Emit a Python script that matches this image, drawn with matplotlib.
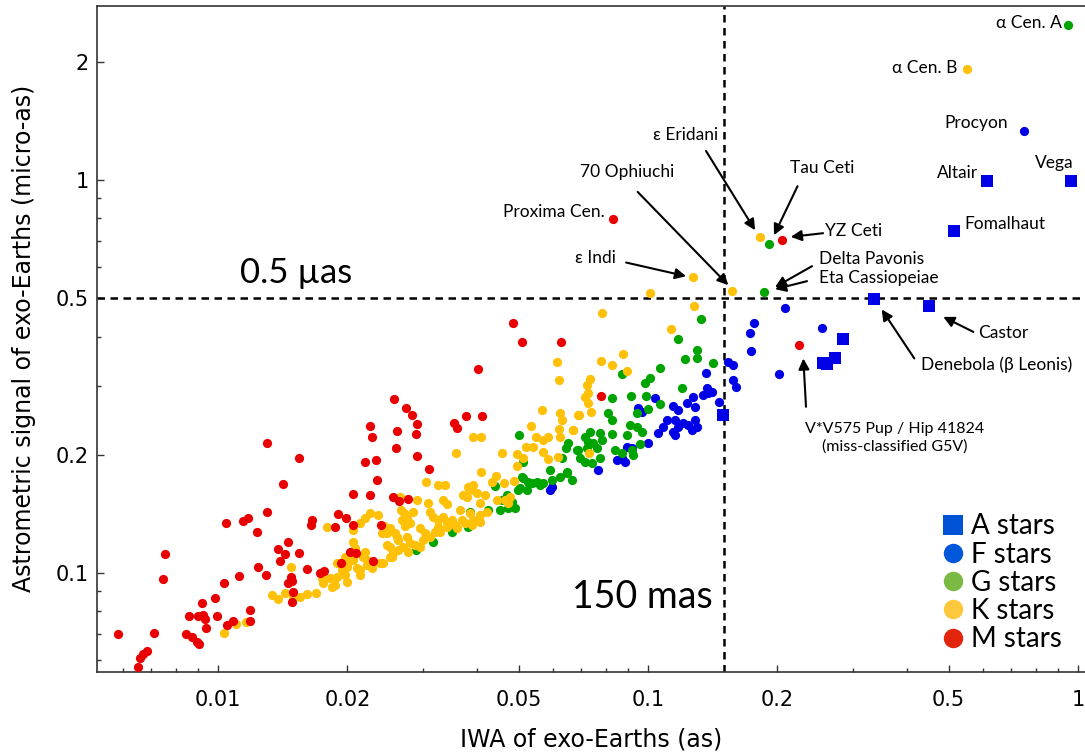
import matplotlib
matplotlib.use("Agg")
import matplotlib.pyplot as plt
from matplotlib.ticker import FixedLocator, FixedFormatter, NullFormatter
from matplotlib.lines import Line2D

# M stars
m_iwa = [0.00584, 0.00651, 0.00659, 0.0067, 0.00683, 0.0071, 0.00746, 0.00753, 0.00841, 0.00869,
         0.00892, 0.00905, 0.00856, 0.00896, 0.00923, 0.00933, 0.00917, 0.00938, 0.00984, 0.00997,
         0.0103, 0.01044, 0.01048, 0.01081, 0.0112, 0.01145, 0.01174, 0.01188, 0.01187, 0.0123,
         0.01241, 0.01295, 0.01298, 0.01303, 0.01381, 0.01428, 0.01394, 0.01413, 0.01455, 0.01541,
         0.01457, 0.01488, 0.01478, 0.01492, 0.01484, 0.01541, 0.01611, 0.01657, 0.01646, 0.01727,
         0.01759, 0.01875, 0.01901, 0.01985, 0.01929, 0.02057, 0.02057, 0.02028, 0.02094, 0.02194,
         0.02327, 0.02259, 0.02278, 0.02261, 0.02294, 0.02346, 0.02394, 0.0257, 0.02605, 0.02591,
         0.02553, 0.0264, 0.02771, 0.02741, 0.02826, 0.02903, 0.02887, 0.02906, 0.0309, 0.03539,
         0.03602, 0.0378, 0.04119, 0.04025, 0.04861, 0.05085, 0.06266, 0.07775, 0.08306, 0.2053,
         0.2249]
m_sig = [0.0698, 0.0578, 0.0608, 0.0622, 0.0633, 0.0705, 0.0966, 0.1116, 0.0700, 0.0688,
         0.0668, 0.0660, 0.0779, 0.0778, 0.0784, 0.0766, 0.0838, 0.0723, 0.0866, 0.0780,
         0.0945, 0.1338, 0.0738, 0.0755, 0.0983, 0.136, 0.1382, 0.0805, 0.0755, 0.1275,
         0.1038, 0.099, 0.1427, 0.2138, 0.115, 0.1121, 0.1076, 0.1685, 0.1199, 0.1126,
         0.0946, 0.0954, 0.0979, 0.0896, 0.0845, 0.1958, 0.1022, 0.1364, 0.1325, 0.1,
         0.1012, 0.1307, 0.1413, 0.138, 0.1063, 0.1594, 0.1325, 0.1133, 0.1122, 0.1913,
         0.1945, 0.2369, 0.2223, 0.1579, 0.1073, 0.1725, 0.1326, 0.2772, 0.2294, 0.2084,
         0.1561, 0.1525, 0.1543, 0.2634, 0.2523, 0.2391, 0.2261, 0.1991, 0.1839, 0.2412,
         0.2342, 0.2504, 0.2504, 0.3298, 0.4326, 0.3864, 0.3864, 0.282, 0.796, 0.7036,
         0.381]

# K stars
k_iwa = [0.01035, 0.0110, 0.01159, 0.01333, 0.01381, 0.01431, 0.01497, 0.01476, 0.01551, 0.01608,
         0.01686, 0.01789, 0.01758, 0.01822, 0.01872, 0.01888, 0.0194, 0.01992, 0.02064, 0.02057,
         0.02064, 0.02083, 0.02139, 0.02197, 0.02257, 0.0236, 0.02139, 0.02217, 0.02177, 0.02278,
         0.02381, 0.02403, 0.02433, 0.02512, 0.02535, 0.02626, 0.01743, 0.01894, 0.02512, 0.0265,
         0.0266, 0.02708, 0.02747, 0.02796, 0.02899, 0.02604, 0.02747, 0.02796, 0.02557, 0.02697,
         0.02771, 0.01974, 0.02197, 0.02217, 0.02297, 0.01992, 0.02102, 0.02139, 0.01974, 0.01992,
         0.01838, 0.06133, 0.06219, 0.0566, 0.06252, 0.0632, 0.067, 0.06885, 0.05346, 0.06219,
         0.06242, 0.0549, 0.05707, 0.05862, 0.03911, 0.0409, 0.03577, 0.04569, 0.05203, 0.05395,
         0.05689, 0.04958, 0.05129, 0.04966, 0.05862, 0.06166, 0.0409, 0.03041, 0.03253, 0.03378,
         0.04424, 0.0433, 0.04625, 0.04872, 0.03924, 0.03855, 0.038, 0.03997, 0.04178, 0.0372,
         0.03084, 0.03342, 0.03403, 0.04068, 0.04216, 0.04447, 0.0465, 0.04777, 0.04718, 0.03654,
         0.03855, 0.0382, 0.02846, 0.02674, 0.02722, 0.03112, 0.03167, 0.03253, 0.03342, 0.03403,
         0.03495, 0.03924, 0.03688, 0.03754, 0.0389, 0.04068, 0.04068, 0.02468, 0.0258, 0.02626,
         0.0295, 0.0303, 0.03003, 0.03112, 0.03196, 0.03253, 0.03283, 0.03403, 0.03557, 0.0359,
         0.02468, 0.02871, 0.0295, 0.02512, 0.02423, 0.1011, 0.1273, 0.1566, 0.1279, 0.0783,
         0.1131, 0.0873, 0.07775, 0.08235, 0.0892, 0.0733, 0.072, 0.07263, 0.0714, 0.07263,
         0.07359, 0.0692, 0.0668, 0.07291, 0.1824, 0.5511]
k_sig = [0.0704, 0.0744, 0.0749, 0.0878, 0.0857, 0.0888, 0.0870, 0.1038, 0.0870, 0.0887,
         0.0891, 0.1309, 0.0941, 0.0969, 0.0932, 0.0979, 0.1018, 0.1048, 0.1079, 0.1286,
         0.1201, 0.1156, 0.1338, 0.1378, 0.1419, 0.1405, 0.1018, 0.1048, 0.1100, 0.1028,
         0.1059, 0.1262, 0.1317, 0.1166, 0.1100, 0.1144, 0.0969, 0.1059, 0.1300, 0.1564,
         0.1447, 0.1419, 0.1378, 0.1338, 0.1534, 0.1237, 0.1237, 0.1190, 0.1122, 0.1166,
         0.1133, 0.1100, 0.1133, 0.1079, 0.1059, 0.1038, 0.1028, 0.0988, 0.0988, 0.0950,
         0.0923, 0.3436, 0.3098, 0.2603, 0.2549, 0.2451, 0.2311, 0.2523, 0.2371, 0.2321,
         0.2223, 0.2223, 0.218, 0.2215, 0.2215, 0.2223, 0.2017, 0.2017, 0.2096, 0.2096,
         0.2035, 0.2005, 0.1958, 0.1875, 0.1947, 0.1977, 0.1807, 0.1708, 0.1675, 0.1675,
         0.1768, 0.1708, 0.1691, 0.1714, 0.1675, 0.1626, 0.1564, 0.1595, 0.1579, 0.1579,
         0.1507, 0.1534, 0.1498, 0.1504, 0.1432, 0.1534, 0.1534, 0.1564, 0.1504, 0.1447,
         0.1419, 0.1658, 0.1432, 0.1364, 0.1317, 0.1432, 0.1391, 0.1364, 0.1391, 0.1351,
         0.1364, 0.1364, 0.1364, 0.1338, 0.1325, 0.1405, 0.1351, 0.1262, 0.1262, 0.1213,
         0.1300, 0.1262, 0.1213, 0.1237, 0.1274, 0.1311, 0.1274, 0.1311, 0.1325, 0.1300,
         0.1178, 0.1178, 0.1166, 0.1100, 0.1059, 0.5177, 0.5674, 0.5227, 0.4787, 0.4579,
         0.4177, 0.3607, 0.3468, 0.3382, 0.3271, 0.311, 0.301, 0.2867, 0.281, 0.2703,
         0.2564, 0.2523, 0.2312, 0.2023, 0.7175, 1.916]

# G stars
g_iwa = [0.02887, 0.03167, 0.03495, 0.0382, 0.03855, 0.04252, 0.04527, 0.04733, 0.04906, 0.04693,
         0.04569, 0.0482, 0.04407, 0.04993, 0.05223, 0.05129, 0.05365, 0.0551, 0.05085, 0.05268,
         0.05707, 0.05916, 0.05971, 0.06242, 0.0647, 0.06645, 0.05038, 0.0561, 0.05004, 0.06527,
         0.06447, 0.06826, 0.06949, 0.05129, 0.063, 0.0647, 0.133, 0.1173, 0.1298, 0.1298,
         0.1219, 0.1419, 0.1066, 0.0871, 0.1011, 0.0984, 0.1198, 0.08235, 0.0912, 0.0988,
         0.1066, 0.1002, 0.0941, 0.0809, 0.08235, 0.0908, 0.0941, 0.0967, 0.0892, 0.08235,
         0.0733, 0.0773, 0.07804, 0.07462, 0.07599, 0.0714, 0.07263, 0.072, 0.0958, 0.08383,
         0.08687, 0.0917, 0.09245, 0.06885, 0.0714, 0.07398, 0.0773, 0.1908, 0.1864, 0.9493]
g_sig = [0.1144, 0.1201, 0.1274, 0.1311, 0.1432, 0.1447, 0.1447, 0.1461, 0.1461, 0.1579,
         0.1534, 0.1519, 0.1665, 0.1626, 0.1626, 0.1742, 0.1691, 0.1708, 0.1758, 0.1708,
         0.1691, 0.1828, 0.1725, 0.1758, 0.18, 0.1725, 0.1643, 0.1675, 0.2241, 0.2138,
         0.2077, 0.2056, 0.1958, 0.192, 0.1958, 0.1811, 0.4429, 0.3933, 0.3693, 0.3518,
         0.3498, 0.3416, 0.333, 0.3221, 0.3129, 0.3039, 0.2962, 0.2783, 0.2821, 0.2821,
         0.2688, 0.261, 0.2549, 0.2549, 0.2451, 0.238, 0.2357, 0.2288, 0.2244, 0.2258,
         0.2288, 0.2267, 0.2181, 0.2138, 0.2076, 0.2222, 0.2158, 0.2076, 0.2129, 0.2056,
         0.2017, 0.2056, 0.1997, 0.2056, 0.192, 0.1902, 0.1958, 0.6862, 0.5196, 2.48]

# F stars
f_iwa = [0.07651, 0.05971, 0.05916, 0.08458, 0.08687, 0.08844, 0.0892, 0.0917, 0.1002, 0.1057,
         0.1085, 0.1105, 0.1156, 0.1176, 0.1208, 0.1241, 0.1286, 0.1298, 0.1264, 0.1145,
         0.1156, 0.0949, 0.0967, 0.1038, 0.1145, 0.1176, 0.1275, 0.123, 0.1286, 0.1463,
         0.1369, 0.1381, 0.1407, 0.1345, 0.1362, 0.1537, 0.1579, 0.1579, 0.1602, 0.2083,
         0.1764, 0.1727, 0.1736, 0.2535, 0.202, 0.7487]
f_sig = [0.1828, 0.1658, 0.1626, 0.1939, 0.1958, 0.192, 0.2096, 0.2076, 0.2138, 0.2267,
         0.2357, 0.2451, 0.2451, 0.2357, 0.2404, 0.238, 0.2451, 0.2357, 0.2312, 0.2288,
         0.2244, 0.2625, 0.2573, 0.2783, 0.2661, 0.26, 0.281, 0.2703, 0.265, 0.2729,
         0.2951, 0.2867, 0.2893, 0.2838, 0.3233, 0.3448, 0.3382, 0.3098, 0.2979, 0.4715,
         0.4334, 0.4073, 0.3672, 0.4195, 0.3203, 1.335]

# A stars
a_iwa = [0.1497, 0.2846, 0.2722, 0.2604, 0.2546, 0.3354, 0.4511, 0.5147, 0.6152, 0.9632]
a_sig = [0.2523, 0.3933, 0.3518, 0.3402, 0.3422, 0.4989, 0.4778, 0.743, 0.9942, 0.9942]

iwa_limit = 0.15
signal_limit = 0.5

x_ticks = [0.01, 0.02, 0.05, 0.1, 0.2, 0.5, 1]
x_ticklabels = ["0.01", "0.02", "0.05", "0.1", "0.2", "0.5", "1"]
y_ticks = [0.1, 0.2, 0.5, 1, 2]
y_ticklabels = ["0.1", "0.2", "0.5", "1", "2"]

legend_labels = ["A stars", "F stars", "G stars", "K stars", "M stars"]
legend_colors = ["#0052d6", "#0057db", "#7aba42", "#fec83c", "#e1240b"]

# labels: (text, x, y, ha)
star_labels = [
    ("\u03b1 Cen. A", 0.918, 2.509, "right"),
    ("\u03b1 Cen. B", 0.523, 1.928, "right"),
    ("Procyon", 0.687, 1.396, "right"),
    ("Altair", 0.585, 1.042, "right"),
    ("Vega", 0.974, 1.104, "right"),
    ("Fomalhaut", 0.543, 0.773, "left"),
    ("YZ Ceti", 0.258, 0.742, "left"),
    ("Tau Ceti", 0.254, 1.073, "center"),
    ("Delta Pavonis\nEta Cassiopeiae", 0.2498, 0.597, "left"),
    ("\u03b5 Eridani", 0.1455, 1.302, "right"),
    ("70 Ophiuchi", 0.115, 1.048, "right"),
    ("Proxima Cen.", 0.0794, 0.829, "right"),
    ("\u03b5 Indi", 0.0843, 0.633, "right"),
    ("Castor", 0.585, 0.408, "left"),
    ("Denebola (\u03b2 Leonis)", 0.431, 0.340, "left"),
]
# arrows: (tail x, tail y, tip x, tip y)
arrows = [
    (0.2553, 0.733, 0.2147, 0.7175),
    (0.2227, 0.9655, 0.1963, 0.7244),
    (0.1364, 1.187, 0.1774, 0.746),
    (0.0946, 0.9337, 0.1537, 0.5406),
    (0.0889, 0.6173, 0.1226, 0.5697),
    (0.2406, 0.6042, 0.1974, 0.5343),
    (0.2343, 0.5534, 0.1974, 0.528),
    (0.5708, 0.4111, 0.486, 0.4489),
    (0.4162, 0.3518, 0.3495, 0.4688),
    (0.2330, 0.265, 0.2297, 0.3518),
]

label_font = ["Lato", "DejaVu Sans"]

fig = plt.figure(figsize=(10.85, 7.54), dpi=100)
ax = fig.add_axes([0.0894, 0.1091, 0.9106, 0.8833])

ms = 44
ax.scatter(f_iwa, f_sig, s=ms, c="#0000e6", marker="o", linewidths=0, zorder=3)
ax.scatter(a_iwa, a_sig, s=76, c="#0000e6", marker="s", linewidths=0, zorder=3)
ax.scatter(g_iwa, g_sig, s=ms, c="#00a400", marker="o", linewidths=0, zorder=4)
ax.scatter(k_iwa, k_sig, s=ms, c="#ffc107", marker="o", linewidths=0, zorder=5)
ax.scatter(m_iwa, m_sig, s=ms, c="#e80000", marker="o", linewidths=0, zorder=6)

ax.axhline(signal_limit, color="black", lw=1.8, ls=(0, (3, 2.2)), zorder=2)
ax.axvline(iwa_limit, color="black", lw=1.8, ls=(0, (3, 2.2)), zorder=2)

ax.set_xscale("log")
ax.set_yscale("log")
ax.set_xlim(0.00523, 1.038)
ax.set_ylim(0.0561, 2.78)

ax.xaxis.set_major_locator(FixedLocator(x_ticks))
ax.xaxis.set_major_formatter(FixedFormatter(x_ticklabels))
ax.yaxis.set_major_locator(FixedLocator(y_ticks))
ax.yaxis.set_major_formatter(FixedFormatter(y_ticklabels))
x_minor = [m * 10.0 ** e for e in (-3, -2, -1) for m in range(2, 10)]
x_minor = [v for v in x_minor if all(abs(v - t) > 1e-9 for t in x_ticks)]
y_minor = [m * 10.0 ** e for e in (-2, -1, 0) for m in range(2, 10)]
y_minor = [v for v in y_minor if all(abs(v - t) > 1e-9 for t in y_ticks)]
ax.xaxis.set_minor_locator(FixedLocator(x_minor))
ax.yaxis.set_minor_locator(FixedLocator(y_minor))
ax.xaxis.set_minor_formatter(NullFormatter())
ax.yaxis.set_minor_formatter(NullFormatter())

ax.tick_params(which="both", direction="in", colors="#333333", width=1.0,
               top=False, right=False, labelsize=15)
ax.tick_params(axis="x", which="both", pad=13)
ax.tick_params(axis="y", which="both", pad=6)
ax.tick_params(which="major", length=5)
ax.tick_params(which="minor", length=3)
for lab in ax.get_xticklabels() + ax.get_yticklabels():
    lab.set_color("black")

ax.spines["right"].set_visible(False)
for side in ("left", "bottom", "top"):
    ax.spines[side].set_color("#333333")
    ax.spines[side].set_linewidth(1.2)

ax.set_xlabel("IWA of exo-Earths (as)", fontsize=17)
ax.set_ylabel("Astrometric signal of exo-Earths (micro-as)", fontsize=17)
ax.xaxis.set_label_coords(0.5, -0.083)
ax.yaxis.set_label_coords(-0.062, 0.5)

for text, x, y, ha in star_labels:
    ax.text(x, y, text, ha=ha, va="center", fontsize=12.5, family=label_font,
            linespacing=1.25, zorder=7)

ax.text(0.3753, 0.2212, "V*V575 Pup / Hip 41824\n(miss-classified G5V)", ha="center",
        va="center", multialignment="center", fontsize=11.5, family=label_font,
        linespacing=1.3, zorder=7)

for x0, y0, x1, y1 in arrows:
    ax.annotate("", xy=(x1, y1), xytext=(x0, y0),
                arrowprops=dict(arrowstyle="-|>", color="black", lw=1.5,
                                mutation_scale=16, shrinkA=0, shrinkB=0), zorder=7)

ax.text(0.01125, 0.58, "0.5 \u00b5as", ha="left", va="center", fontsize=25, family=label_font)
ax.text(0.1416, 0.0869, "150 mas", ha="right", va="center", fontsize=27, family=label_font)

handles = []
for i, (lab, col) in enumerate(zip(legend_labels, legend_colors)):
    mk = "s" if i == 0 else "o"
    size = 15 if i == 0 else 14
    handles.append(Line2D([], [], marker=mk, color=col, linestyle="none", markersize=size,
                          markeredgewidth=0))
leg = ax.legend(handles, legend_labels, loc="lower right", bbox_to_anchor=(0.996, 0.0),
                frameon=False, handletextpad=0.05, labelspacing=0.08, handlelength=1.2,
                borderpad=0.2, prop={"family": label_font, "size": 20})

fig.savefig("out.png", dpi=100)
